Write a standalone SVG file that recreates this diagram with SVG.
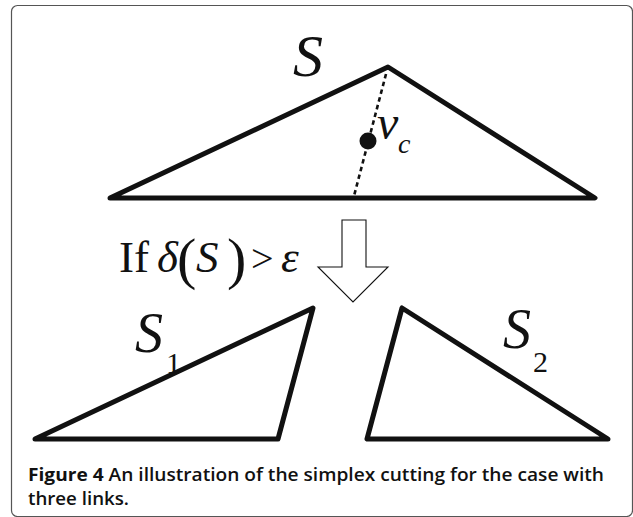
<svg xmlns="http://www.w3.org/2000/svg" width="633" height="517" viewBox="0 0 633 517">
<style>
.tri{fill:none;stroke:#111;stroke-width:5;stroke-linejoin:round;stroke-linecap:round}
.math{font-family:"Liberation Serif","Times New Roman",serif;fill:#111}
.it{font-style:italic}
.cap{font-family:"Open Sans","Noto Sans",sans-serif;fill:#111;font-size:18px}
</style>
<rect x="11.5" y="5.5" width="621" height="511" rx="6" fill="#fff" stroke="#555" stroke-width="1.2"/>
<g id="simplex-S">
<polygon class="tri" points="110,198 388,67 595,198"/>
<line x1="386" y1="74" x2="354" y2="196" stroke="#111" stroke-width="2.6" stroke-dasharray="4.5 3.5"/>
<circle cx="368" cy="141" r="8.5" fill="#111"/>
<text class="math it" x="293" y="76" font-size="60">S</text>
<text class="math it" x="377" y="139" font-size="48">v</text>
<text class="math it" x="398" y="153" font-size="28">c</text>
</g>
<g id="condition">
<text class="math" x="119" y="272" font-size="45">If</text>
<text class="math it" x="157" y="272" font-size="45">δ</text>
<text class="math" x="177" y="278" font-size="58">(</text>
<text class="math it" x="196" y="272" font-size="45">S</text>
<text class="math" x="227" y="278" font-size="58">)</text>
<text class="math" x="251" y="272" font-size="40">&gt;</text>
<text class="math it" x="281" y="272" font-size="45">ε</text>
</g>
<g id="connectors">
<polygon points="342,220 366,220 366,267 388,267 353,302 318,267 342,267" fill="#fff" stroke="#111" stroke-width="1.1" stroke-linejoin="miter"/>
</g>
<g id="simplex-S1">
<polygon class="tri" points="35,439 313,308 278,439"/>
<text class="math it" x="135" y="352" font-size="56">S</text>
<text class="math" x="166" y="373" font-size="30">1</text>
</g>
<g id="simplex-S2">
<polygon class="tri" points="402,308 367,439 608,439"/>
<text class="math it" x="503" y="348" font-size="56">S</text>
<text class="math" x="533" y="372" font-size="30">2</text>
</g>
<g id="caption">
<text class="cap" x="28" y="481" textLength="576" lengthAdjust="spacingAndGlyphs"><tspan font-weight="700">Figure 4</tspan><tspan font-weight="600"> An illustration of the simplex cutting for the case with</tspan></text>
<text class="cap" x="28" y="505" font-weight="600" textLength="101" lengthAdjust="spacingAndGlyphs">three links.</text>
</g>
</svg>
